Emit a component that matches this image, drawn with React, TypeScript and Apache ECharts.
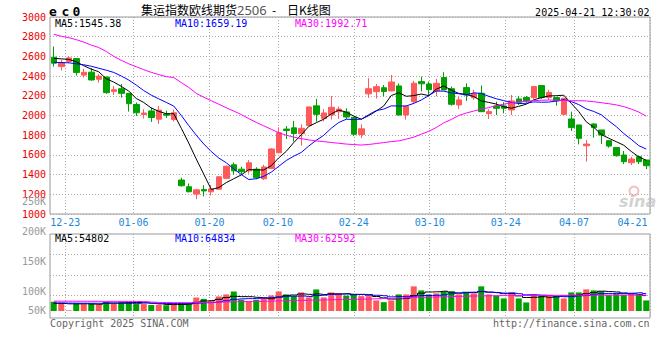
import React, { useEffect, useRef } from 'react';
import * as echarts from 'echarts';

const dates = [
  '12-19','12-20','12-23','12-24','12-25','12-26','12-27','12-30','12-31','01-02',
  '01-03','01-06','01-07','01-08','01-09','01-10','01-13','01-14','01-15','01-16',
  '01-17','01-20','01-21','01-22','01-23','01-24','01-27','02-05','02-06','02-07',
  '02-10','02-11','02-12','02-13','02-14','02-17','02-18','02-19','02-20','02-21',
  '02-24','02-25','02-26','02-27','02-28','03-03','03-04','03-05','03-06','03-07',
  '03-10','03-11','03-12','03-13','03-14','03-17','03-18','03-19','03-20','03-21',
  '03-24','03-25','03-26','03-27','03-28','03-31','04-01','04-02','04-03','04-07',
  '04-08','04-09','04-10','04-11','04-14','04-15','04-16','04-17','04-18','04-21'
];

const opens = [
  2592,2497,2548,2578,2410,2440,2368,2390,2245,2272,
  2225,2112,2010,2046,1963,2015,1960,1345,1277,1202,
  1248,1225,1252,1362,1500,1455,1438,1455,1358,1463,
  1622,1862,1875,1815,1897,2098,1970,2005,2038,2036,
  1982,1807,2220,2242,2282,2250,2300,2005,2141,2344,
  2320,2250,2385,2272,2107,2283,2180,2226,2019,2097,
  2097,2056,2168,2182,2182,2304,2182,2182,2012,1965,
  1904,1693,1914,1853,1744,1676,1599,1520,1582,1548
];
const closes = [
  2531,2537,2585,2436,2438,2361,2400,2232,2262,2225,
  2120,2028,2025,1980,2055,2003,2028,1287,1226,1245,
  1234,1255,1378,1485,1438,1430,1520,1368,1478,1660,
  1825,1848,1816,1870,2087,2012,2026,2083,2065,1985,
  1810,1865,2272,2293,2243,2340,2005,2093,2328,2322,
  2263,2327,2260,2114,2158,2209,2222,2039,2039,2073,
  2073,2148,2134,2148,2294,2182,2233,2148,2175,1877,
  1768,1710,1877,1802,1690,1592,1531,1558,1531,1490
];
const lows = [
  2497,2456,2531,2405,2385,2352,2334,2220,2208,2182,
  2040,1996,1970,1935,1915,1975,1940,1278,1220,1150,
  1180,1188,1250,1358,1400,1405,1410,1352,1345,1455,
  1618,1762,1735,1695,1893,1938,1940,1960,1965,1965,
  1790,1772,2178,2172,2195,2245,2000,1958,2115,2245,
  2195,2195,2258,2100,2066,2148,2160,2035,1965,2005,
  2022,2005,2107,2130,2168,2168,2158,2100,1999,1843,
  1707,1531,1775,1710,1673,1582,1507,1497,1507,1456
];
const highs = [
  2700,2565,2605,2585,2475,2482,2420,2395,2298,2320,
  2228,2132,2065,2080,2097,2048,2060,1368,1310,1255,
  1292,1293,1383,1492,1522,1480,1547,1475,1500,1668,
  1880,1893,1945,1910,2090,2168,2066,2199,2090,2073,
  1985,1910,2380,2320,2310,2412,2325,2095,2352,2395,
  2345,2372,2440,2294,2192,2327,2260,2304,2063,2141,
  2135,2209,2199,2198,2294,2310,2260,2182,2175,2039,
  1904,1751,1921,1853,1751,1676,1639,1582,1592,1548
];

const ma5 = [
  2580,2575,2570,2545,2505,2471,2444,2373,2339,2296,
  2248,2173,2132,2076,2042,2018,2018,1871,1720,1558,
  1404,1249,1268,1319,1358,1397,1450,1448,1447,1491,
  1570,1636,1725,1804,1889,1927,1962,2016,2055,2034,
  1994,1962,1999,2045,2097,2203,2231,2195,2202,2218,
  2202,2267,2300,2257,2224,2214,2193,2148,2133,2116,
  2089,2074,2093,2115,2159,2181,2198,2201,2206,2123,
  2040,1936,1881,1807,1769,1734,1698,1635,1580,1545
];
const ma10 = [
  2540,2537,2535,2525,2515,2500,2480,2460,2437,2401,
  2360,2309,2253,2207,2169,2133,2096,2001,1898,1800,
  1711,1634,1569,1520,1458,1401,1350,1358,1383,1425,
  1484,1543,1587,1625,1690,1748,1799,1871,1929,1962,
  1960,1962,2008,2050,2065,2098,2096,2097,2123,2157,
  2202,2249,2247,2230,2221,2208,2230,2224,2195,2170,
  2151,2134,2121,2124,2138,2135,2136,2147,2161,2141,
  2111,2067,2041,2007,1946,1887,1817,1758,1694,1659
];
const ma30 = [
  2825,2805,2790,2770,2745,2715,2690,2650,2600,2560,
  2525,2495,2465,2438,2415,2395,2385,2335,2285,2225,
  2185,2150,2115,2078,2045,2010,1968,1930,1895,1860,
  1825,1800,1780,1765,1752,1742,1735,1726,1718,1710,
  1705,1700,1706,1715,1725,1735,1742,1760,1780,1810,
  1840,1878,1925,1960,2000,2025,2045,2065,2080,2100,
  2115,2130,2138,2145,2150,2155,2157,2155,2152,2150,
  2150,2148,2140,2130,2120,2108,2090,2065,2035,1993
];

const volumes = [
  35000,32600,14000,30600,29400,30600,28600,34000,30600,33300,
  33300,29400,29400,27000,27500,26500,29000,32600,32000,45300,
  42000,36500,48000,53000,60000,40000,35800,40000,45000,50500,
  60000,53000,48800,57800,45600,65000,45600,57800,55400,50000,
  52900,48800,48800,38200,34000,38200,52900,52900,72500,62700,
  52900,55400,60300,60300,52900,57800,55400,72500,52900,49700,
  43100,57800,43100,33300,52900,49700,49700,49700,43100,57800,
  57800,65200,62700,60300,51000,53500,52000,54000,52500,38200
];
const volMa5 = [
  31000,31000,30000,30000,30160,29480,28960,31960,31960,32440,
  32920,33240,32560,31440,29840,28240,28240,28440,29560,33480,
  36880,37860,40940,45220,48100,47500,47360,45760,44160,42260,
  46260,49700,51460,54020,53040,54040,52560,54360,53880,54760,
  52340,52980,51180,47740,44540,41600,42420,43240,50100,55840,
  58780,59280,60760,58320,56360,57340,57340,59780,58300,57660,
  54720,55200,49320,45400,46040,47360,45740,47060,49020,50000,
  51620,54720,57320,60760,59780,58800,56340,54380,52900,49960
];
const volMa10 = [
  32000,32000,31800,31600,31500,31400,31300,31300,31300,31300,
  31200,31100,32260,31700,31140,30580,30740,30500,30500,31660,
  32560,33050,34690,37390,40790,42190,42610,43350,44690,45180,
  46880,48530,48610,49090,47650,50150,51130,52910,53950,53900,
  53190,52770,52770,50810,49650,46970,47700,47210,48920,50190,
  50190,50850,52000,54210,56100,58060,58310,60270,58310,57010,
  56030,56270,54550,51850,51850,51040,50470,48190,47210,48020,
  49490,50230,52190,54890,54890,55210,55530,55850,56830,54870
];
const volMa30 = [
  36500,36400,36400,36300,36200,36200,36100,36000,36000,35900,
  35800,35600,35300,34000,33300,33000,32800,32700,32800,33000,
  33400,33800,34200,34700,35100,35400,35600,35800,36200,36700,
  37200,37600,38000,38400,38800,39200,39600,40000,40400,40700,
  41000,41400,41800,42300,42800,43400,44000,44600,45200,45800,
  46300,46800,47300,47800,48200,48600,49000,49300,49600,49800,
  50000,50100,50200,50300,50400,50500,50600,50700,50800,50900,
  51000,51100,51200,51200,51300,51300,51300,51200,51200,51200
];

const labelDates = ['12-23','01-06','01-20','02-10','02-24','03-10','03-24','04-07','04-21'];
const priceAxis = { min: 1000, max: 3000, step: 200 };
const volAxis = { min: 12500, max: 200000 };
const volLabelAxis = { min: 50000, max: 250000, step: 50000 };
const mainLegend = ['MA5:1545.38', 'MA10:1659.19', 'MA30:1992.71'];
const volLegend = ['MA5:54802', 'MA10:64834', 'MA30:62592'];
const titleParts = ['集运指数欧线期货', '2506', '-', '日K线图'];
const headerMark = ['e', 'c', '0'];
const timestamp = '2025-04-21 12:30:02';
const footerLeft = 'Copyright 2025 SINA.COM';
const footerRight = 'http://finance.sina.com.cn';

const UP = '#ff5a5a';
const DOWN = '#00a000';
const MA_COLORS = ['#000000', '#0000ff', '#ff00ff'];
const MONO = '"DejaVu Sans Mono", "Liberation Mono", monospace';
const CJK = '"Noto Sans CJK SC", "Noto Sans", sans-serif';

export default function App() {
  const ref = useRef<HTMLDivElement>(null);

  useEffect(() => {
    if (!ref.current) return;
    const chart = echarts.init(ref.current, null, { renderer: 'svg' });

    const candleData = dates.map((_, i) => [opens[i], closes[i], lows[i], highs[i]]);
    const volData = volumes.map((v, i) => ({
      value: v,
      itemStyle: { color: closes[i] >= opens[i] ? UP : DOWN },
    }));
    const dotted = { color: '#aaaaaa', width: 1, type: [1, 2] as any };
    const isLabelDate = (_idx: number, val: string) => labelDates.indexOf(val) >= 0;
    const lastDate = dates[dates.length - 1];

    const maLine = (data: number[], color: string, xi: number, yi: number, step?: string) => ({
      type: 'line',
      xAxisIndex: xi,
      yAxisIndex: yi,
      data,
      step: step || false,
      symbol: 'none',
      silent: true,
      smooth: false,
      lineStyle: { color, width: 1 },
      emphasis: { disabled: true },
      z: 5,
    });

    const legendTexts = (items: string[], y: number) =>
      items.map((t, k) => ({
        type: 'text',
        x: [55, 175, 295][k],
        y,
        silent: true,
        style: {
          text: t,
          fill: MA_COLORS[k],
          fontFamily: MONO,
          fontSize: 10,
          verticalAlign: 'middle',
          align: 'left',
        },
        z: 100,
      }));

    const option: any = {
      animation: false,
      backgroundColor: '#ffffff',
      grid: [
        { left: 50, top: 17, width: 600, height: 197, show: true, borderColor: '#999999', borderWidth: 1, containLabel: false, outerBoundsMode: 'none' },
        { left: 50, top: 234, width: 600, height: 77, show: false, containLabel: false, outerBoundsMode: 'none' },
        { left: 50, top: 234, width: 600, height: 84, show: true, borderColor: '#999999', borderWidth: 1, containLabel: false, outerBoundsMode: 'none' },
        { left: 50, top: 201, width: 600, height: 120, show: false, containLabel: false, outerBoundsMode: 'none' },
      ],
      xAxis: [
        { type: 'category', gridIndex: 0, data: dates, boundaryGap: true, show: false, position: 'top' },
        {
          type: 'category', gridIndex: 0, data: dates, boundaryGap: false, position: 'bottom',
          axisLine: { show: false }, axisTick: { show: false },
          axisLabel: {
            interval: isLabelDate,
            color: '#1e88d8',
            fontFamily: MONO,
            fontSize: 10,
            margin: 3,
            formatter: (v: string) => (v === lastDate ? '{last|' + v + '}' : v),
            rich: { last: { padding: [0, 35, 0, 0], color: '#1e88d8', fontFamily: MONO, fontSize: 10 } },
          },
          splitLine: { show: true, interval: isLabelDate, lineStyle: dotted },
        },
        { type: 'category', gridIndex: 1, data: dates, boundaryGap: true, show: false },
        {
          type: 'category', gridIndex: 2, data: dates, boundaryGap: false,
          axisLine: { show: false }, axisTick: { show: false }, axisLabel: { show: false },
          splitLine: { show: true, interval: isLabelDate, lineStyle: dotted },
        },
        { type: 'category', gridIndex: 3, data: dates, show: false },
      ],
      yAxis: [
        {
          type: 'value', gridIndex: 0, min: priceAxis.min, max: priceAxis.max, interval: priceAxis.step,
          axisLine: { show: false }, axisTick: { show: false },
          axisLabel: {
            color: '#ee0000', fontFamily: MONO, fontSize: 10, margin: 4, lineHeight: 8,
            padding: [0, 0, 3, 0],
            formatter: (v: number) => String(v),
          },
          splitLine: { show: true, lineStyle: dotted },
        },
        {
          type: 'value', gridIndex: 1, min: volAxis.min, max: volAxis.max, splitNumber: 4,
          minInterval: 50000, maxInterval: 50000,
          axisLine: { show: false }, axisTick: { show: false }, axisLabel: { show: false },
          splitLine: { show: true, showMinLine: false, showMaxLine: false, lineStyle: dotted },
        },
        { type: 'value', gridIndex: 2, min: 0, max: 1, show: false },
        {
          type: 'value', gridIndex: 3, min: volLabelAxis.min, max: volLabelAxis.max, interval: volLabelAxis.step,
          axisLine: { show: false }, axisTick: { show: false }, splitLine: { show: false },
          axisLabel: {
            color: '#999999', fontFamily: MONO, fontSize: 10, margin: 4, lineHeight: 8,
            formatter: (v: number) => (v === volLabelAxis.min ? '{up|' + v / 1000 + 'K}' : v / 1000 + 'K'),
            rich: { up: { padding: [0, 0, 21, 0], color: '#999999', fontFamily: MONO, fontSize: 10, lineHeight: 8 } },
          },
        },
      ],
      series: [
        {
          type: 'candlestick',
          xAxisIndex: 0,
          yAxisIndex: 0,
          data: candleData,
          barWidth: 6,
          silent: true,
          itemStyle: { color: UP, color0: DOWN, borderColor: UP, borderColor0: DOWN, borderWidth: 1 },
          z: 3,
        },
        maLine(ma5, MA_COLORS[0], 0, 0),
        maLine(ma10, MA_COLORS[1], 0, 0),
        maLine(ma30, MA_COLORS[2], 0, 0),
        {
          type: 'bar',
          xAxisIndex: 2,
          yAxisIndex: 1,
          data: volData,
          barWidth: 6,
          clip: true,
          silent: true,
          z: 3,
        },
        maLine(volMa5, MA_COLORS[0], 2, 1, 'middle'),
        maLine(volMa10, MA_COLORS[1], 2, 1, 'middle'),
        maLine(volMa30, MA_COLORS[2], 2, 1, 'middle'),
      ],
      graphic: [
        ...headerMark.map((ch, k) => ({
          type: 'text', x: [49, 61.5, 72.5][k], y: 11.5, silent: true,
          style: { text: ch, fill: '#000', fontFamily: MONO, fontSize: 13, fontWeight: 'bold', verticalAlign: 'middle' },
        })),
        { type: 'text', x: 141, y: 9, silent: true, style: { text: titleParts[0], fill: '#000', fontFamily: CJK, fontSize: 12, verticalAlign: 'middle' } },
        { type: 'text', x: 237, y: 9.5, silent: true, style: { text: titleParts[1], fill: '#555', fontFamily: '"Noto Sans", sans-serif', fontSize: 13, verticalAlign: 'middle' } },
        { type: 'text', x: 272, y: 9, silent: true, style: { text: titleParts[2], fill: '#000', fontFamily: CJK, fontSize: 12, verticalAlign: 'middle' } },
        { type: 'text', x: 287, y: 9, silent: true, style: { text: titleParts[3], fill: '#000', fontFamily: CJK, fontSize: 12, verticalAlign: 'middle' } },
        { type: 'text', x: 649.5, y: 12, silent: true, style: { text: timestamp, fill: '#000', fontFamily: MONO, fontSize: 10, align: 'right', verticalAlign: 'middle' } },
        ...legendTexts(mainLegend, 23),
        ...legendTexts(volLegend, 238.7),
        { type: 'text', x: 50, y: 323.5, silent: true, style: { text: footerLeft, fill: '#666', fontFamily: MONO, fontSize: 10, verticalAlign: 'middle' } },
        { type: 'text', x: 649.5, y: 323.5, silent: true, style: { text: footerRight, fill: '#666', fontFamily: MONO, fontSize: 10, align: 'right', verticalAlign: 'middle' } },
        { type: 'circle', silent: true, shape: { cx: 634, cy: 191, r: 4.5 }, style: { fill: 'none', stroke: 'rgba(235,140,140,0.55)', lineWidth: 2 }, z: 1 },
        { type: 'text', x: 619, y: 201, silent: true, style: { text: 'sina', fill: 'rgba(190,190,190,0.7)', fontFamily: '"DejaVu Sans", sans-serif', fontSize: 16, fontWeight: 'bold', fontStyle: 'italic', verticalAlign: 'middle' }, z: 1 },
      ],
    };

    chart.setOption(option);
    return () => {
      chart.dispose();
    };
  }, []);

  return <div ref={ref} style={{ position: 'absolute', left: 0, top: 0, width: 660, height: 360 }} />;
}
